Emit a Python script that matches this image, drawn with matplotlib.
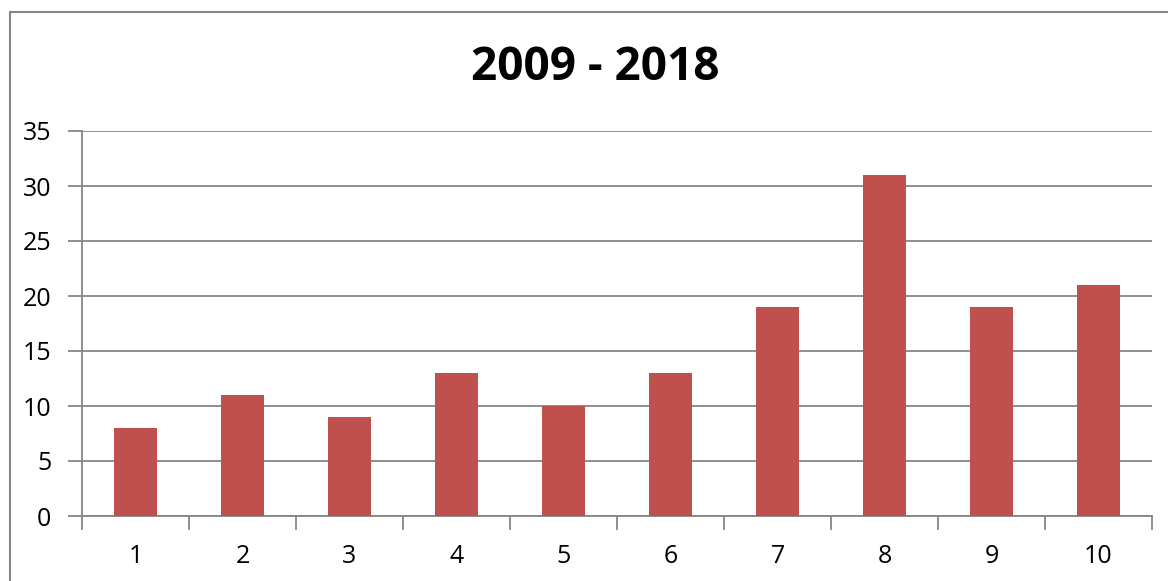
import matplotlib
matplotlib.use("Agg")
import matplotlib.pyplot as plt
from matplotlib.patches import Rectangle

# data
categories = [str(i) for i in range(1, 11)]
values = [8, 11, 9, 13, 10, 13, 19, 31, 19, 21]
title = "2009 - 2018"

plt.rcParams['font.family'] = ['Open Sans', 'DejaVu Sans']

W, H = 1168, 581
fig = plt.figure(figsize=(W / 100, H / 100), dpi=100)
fig.patch.set_facecolor('white')

# outer chart frame (cut off on right and bottom in the reference)
frame = Rectangle((9.5 / W, -0.1), 1.2, 1 - 12 / H + 0.1, transform=fig.transFigure,
                  facecolor='none', edgecolor='#868686', linewidth=1.5, clip_on=False)
fig.add_artist(frame)

ax = fig.add_axes([82 / W, 1 - 516 / H, (1152 - 82) / W, (516 - 131) / H])
x = list(range(len(categories)))
ax.bar(x, values, width=0.4, color='#C0504D', zorder=3)

ax.set_xlim(-0.5, len(categories) - 0.5)
ax.set_ylim(0, 35)
ax.set_yticks(range(0, 36, 5))
ax.set_xticks(x)
ax.set_xticklabels(categories)
ax.set_xticks([i - 0.5 for i in range(len(categories) + 1)], minor=True)

ax.grid(axis='y', color='#868686', linewidth=1.3, zorder=0)
for s in ['top', 'right']:
    ax.spines[s].set_visible(False)
for s in ['left', 'bottom']:
    ax.spines[s].set_color('#868686')
    ax.spines[s].set_linewidth(1.3)

ax.tick_params(axis='x', which='major', length=0, pad=20, labelsize=18, colors='black')
ax.tick_params(axis='x', which='minor', length=10, width=1.3, color='#868686')
ax.tick_params(axis='y', length=10, width=1.3, color='#868686', pad=12, labelsize=18,
               labelcolor='black')

fig.text(595 / W, 1 - 68 / H, title, ha='center', va='center', fontsize=33,
         fontweight='bold', color='black')

fig.savefig('out.png', dpi=100, facecolor='white')
